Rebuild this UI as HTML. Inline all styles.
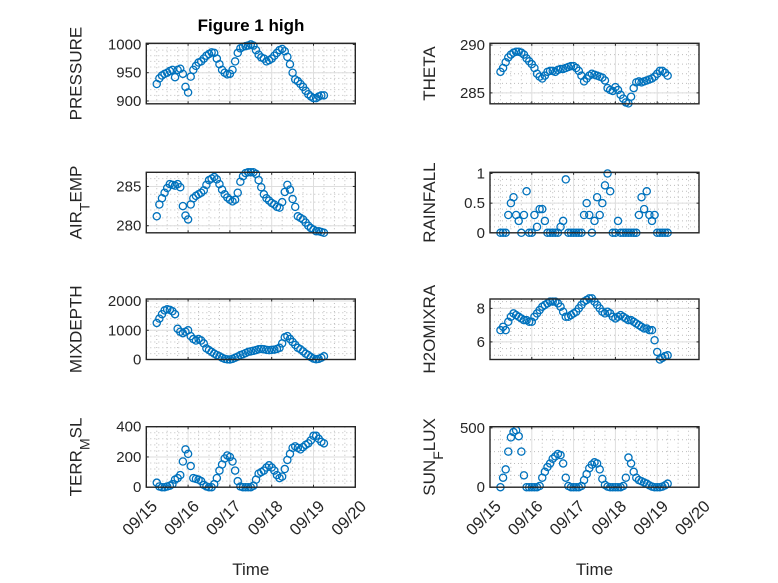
<!DOCTYPE html>
<html><head><meta charset="utf-8">
<style>
html,body{margin:0;padding:0;background:#fff;}
svg{display:block;font-family:"Liberation Sans",sans-serif;}
</style></head>
<body>
<svg id="fig" width="778" height="583" viewBox="0 0 778 583">
<rect x="0" y="0" width="778" height="583" fill="#fff"/>
<text x="251" y="31" text-anchor="middle" font-size="17" font-weight="bold" fill="#000">Figure 1 high</text>
</svg>
<script>
// time: first sample 09/15 06:00, sampled every 1.5 h (days since 09/15 00:00)
const tStart = 0.25;
const tStep = 0.0625;
const xTickLabels = ["09/15","09/16","09/17","09/18","09/19","09/20"];
const pressure = [930,940,945,948,950,953,955,942,955,957,948,925,915,943,955,962,968,970,975,980,983,986,985,975,965,955,950,947,948,955,970,985,993,996,997,998,1000,998,990,982,977,975,970,972,975,980,985,990,992,988,978,965,950,938,935,930,925,918,912,908,905,905,908,910,910];
const theta = [287.2,287.6,288.2,288.7,289.0,289.2,289.3,289.3,289.2,289.0,288.6,288.3,288.0,287.6,287.0,286.7,286.5,286.8,287.2,287.3,287.3,287.2,287.4,287.5,287.5,287.6,287.7,287.8,287.8,287.6,287.3,286.8,286.2,286.5,286.8,287.0,286.9,286.8,286.7,286.6,286.3,285.5,285.3,285.2,285.6,285.3,284.8,284.4,284.0,283.9,284.6,285.5,286.1,286.2,286.1,286.2,286.3,286.4,286.5,286.7,287.0,287.3,287.3,287.1,286.8];
const airTemp = [281.2,282.7,283.5,284.2,284.8,285.3,285.2,285.1,285.3,284.9,282.5,281.3,280.8,282.7,283.5,283.8,284.0,284.2,284.5,285.2,285.8,286.0,286.2,285.9,285.3,284.6,284.0,283.6,283.3,283.1,283.3,284.2,285.6,286.3,286.7,286.8,286.8,286.8,286.6,285.8,284.9,284.0,283.5,283.2,282.9,282.7,282.4,282.3,283.0,284.3,285.2,284.6,283.4,282.4,281.2,281.0,280.8,280.4,280.0,279.7,279.5,279.3,279.3,279.2,279.1];
const rainfall = [0,0,0,0.3,0.5,0.6,0.3,0.2,0,0.3,0.7,0,0,0.3,0.1,0.4,0.4,0.2,0,0,0,0,0,0.1,0.2,0.9,0,0,0,0,0,0,0.3,0.5,0.3,0,0.2,0.6,0.3,0.5,0.8,1.0,0.7,0,0,0.2,0,0,0,0,0,0,0,0.3,0.6,0.4,0.7,0.3,0.2,0.3,0,0,0,0,0];
const mixDepth = [1250,1400,1550,1680,1720,1700,1650,1550,1050,950,900,950,1000,800,700,650,700,650,550,380,320,260,200,150,110,60,20,5,0,20,60,100,150,180,220,260,280,300,320,350,360,350,330,320,330,340,360,400,550,760,800,700,600,500,400,350,280,200,150,80,30,10,20,60,110];
const h2oMix = [6.7,6.9,6.7,7.2,7.5,7.7,7.6,7.5,7.4,7.3,7.3,7.2,7.2,7.5,7.7,7.9,8.1,8.2,8.3,8.4,8.4,8.4,8.3,8.1,7.8,7.5,7.5,7.6,7.7,7.8,8.0,8.2,8.4,8.5,8.6,8.6,8.4,8.2,8.0,7.8,7.7,7.8,7.7,7.5,7.4,7.5,7.6,7.5,7.4,7.3,7.3,7.2,7.1,7.0,6.9,6.8,6.8,6.7,6.7,6.1,5.4,4.95,5.05,5.15,5.2];
const terrMsl = [30,5,0,0,5,10,20,50,60,80,170,250,220,140,60,55,50,40,15,5,0,0,20,60,110,150,190,210,200,170,110,40,5,0,0,0,0,10,50,90,100,110,130,145,130,110,80,60,70,120,180,220,260,270,260,250,265,280,290,310,340,340,320,300,290];
const sunFlux = [0,80,150,300,420,465,480,430,300,100,0,0,0,0,0,10,80,130,170,200,240,260,280,270,200,80,10,0,0,0,0,10,60,110,160,190,210,200,150,70,20,5,0,0,0,0,0,10,80,250,200,130,80,60,50,40,30,15,5,0,0,0,5,15,30];

const panels = [
 {name:"pressure", label:[["PRESSURE",""]], data:pressure, ylim:[895,1002], ticks:[900,950,1000], tl:["900","950","1000"], x:146.3, y:43.3, last:false},
 {name:"theta", label:[["THETA",""]], data:theta, ylim:[283.86,290.18], ticks:[285,290], tl:["285","290"], x:490, y:43.3, last:false},
 {name:"air-temp", label:[["AIR",""],["T","sub"],["EMP",""]], data:airTemp, ylim:[279.1,286.8], ticks:[280,285], tl:["280","285"], x:146.3, y:172.3, last:false},
 {name:"rainfall", label:[["RAINFALL",""]], data:rainfall, ylim:[0,1.02], ticks:[0,0.5,1], tl:["0","0.5","1"], x:490, y:172.3, last:false},
 {name:"mixdepth", label:[["MIXDEPTH",""]], data:mixDepth, ylim:[0,2070], ticks:[0,1000,2000], tl:["0","1000","2000"], x:146.3, y:299, last:false},
 {name:"h2omixra", label:[["H2OMIXRA",""]], data:h2oMix, ylim:[4.95,8.56], ticks:[6,8], tl:["6","8"], x:490, y:299, last:false},
 {name:"terr-msl", label:[["TERR",""],["M","sub"],["SL",""]], data:terrMsl, ylim:[0,400], ticks:[0,200,400], tl:["0","200","400"], x:146.3, y:426.7, last:true},
 {name:"sun-flux", label:[["SUN",""],["F","sub"],["LUX",""]], data:sunFlux, ylim:[0,510], ticks:[0,500], tl:["0","500"], x:490, y:426.7, last:true}
];
const W = 209, H = 60.5;
const NS = "http://www.w3.org/2000/svg";
const svg = document.getElementById('fig');
function mk(tag, attrs, parent){ const e=document.createElementNS(NS,tag); for(const k in attrs) e.setAttribute(k,attrs[k]); (parent||svg).appendChild(e); return e; }

panels.forEach(p=>{
  const g = mk('g',{});
  
  
  const xs = t => p.x + (t/5)*W;
  const ys = v => p.y + H - (v-p.ylim[0])/(p.ylim[1]-p.ylim[0])*H;
  mk('rect',{x:p.x,y:p.y,width:W,height:H,fill:"#fff"},g);
  for(let d=0; d<20; d++){ if(d%4===0) continue; const x=xs(d/4);
    const l=mk('line',{x1:x,x2:x,y1:p.y,y2:p.y+H,stroke:"#bdbdbd","stroke-width":1,"stroke-dasharray":"1 3"},g);
      }
  const step=p.ticks[1]-p.ticks[0];
  for(let v=p.ticks[0]-step; v<=p.ylim[1]; v+=step/5){ if(v<p.ylim[0]) continue; const y=ys(v);
    const l=mk('line',{x1:p.x,x2:p.x+W,y1:y,y2:y,stroke:"#bdbdbd","stroke-width":1,"stroke-dasharray":"1 3"},g);
      }
  for(let d=1; d<5; d++){ const x=xs(d);
    const l=mk('line',{x1:x,x2:x,y1:p.y,y2:p.y+H,stroke:"#dedede","stroke-width":1},g);
      }
  p.ticks.forEach((v,i)=>{ const y=ys(v);
    const l=mk('line',{x1:p.x,x2:p.x+W,y1:y,y2:y,stroke:"#dedede","stroke-width":1},g);
     
    mk('line',{x1:p.x,x2:p.x+2.5,y1:y,y2:y,stroke:"#262626","stroke-width":1},g);
    mk('line',{x1:p.x+W,x2:p.x+W-2.5,y1:y,y2:y,stroke:"#262626","stroke-width":1},g);
    const t=mk('text',{x:p.x-5,y:y+5,"text-anchor":"end","font-size":15,fill:"#262626"},g);
    t.textContent=p.tl[i];
     
  });
  for(let d=0; d<=5; d++){ const x=xs(d);
    mk('line',{x1:x,x2:x,y1:p.y+H,y2:p.y+H-2.5,stroke:"#262626","stroke-width":1},g);
    mk('line',{x1:x,x2:x,y1:p.y,y2:p.y+2.5,stroke:"#262626","stroke-width":1},g);
    if(p.last){
      const t=mk('text',{transform:`translate(${x+12},${p.y+H+20}) rotate(-45)`,"text-anchor":"end","font-size":16.5,fill:"#262626"},g);
      t.textContent=xTickLabels[d];
       
    }
  }
  const sg = mk('g',{},g);
  
  
  p.data.forEach((v,i)=>{
    const c=mk('circle',{cx:xs(tStart+i*tStep),cy:ys(v),r:3.6,fill:"none",stroke:"#0072BD","stroke-width":1.3},sg);
     
  });
  mk('rect',{x:p.x,y:p.y,width:W,height:H,fill:"none",stroke:"#262626","stroke-width":1.4},g);
  const lx = p.x - (p.x<300 ? 65 : 55);
  const lab = mk('text',{transform:`translate(${lx},${p.y+H/2}) rotate(-90)`,"text-anchor":"middle","font-size":17,fill:"#262626"},g);
  
  
  p.label.forEach(([s,k])=>{ const ts=mk('tspan',{},lab); if(k==='sub'){ts.setAttribute('baseline-shift','sub');ts.setAttribute('font-size','14');} ts.textContent=s; });
  if(p.last){
    const tl=mk('text',{x:p.x+W/2,y:575,"text-anchor":"middle","font-size":17,fill:"#262626"},g);
    tl.textContent="Time";
     
  }
});
</script>
</body></html>
